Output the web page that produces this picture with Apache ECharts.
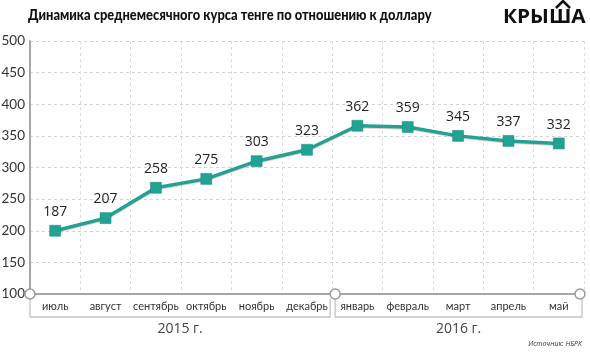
<!DOCTYPE html>
<html lang="ru">
<head>
    <meta charset="UTF-8">
    <title>Курс тенге</title>
    <style>
        * { padding: 0; margin: 0; }
        body { background: #fff; }
        .EC { width: 590px; height: 353px; }
    </style>
</head>
<body>
<div class="EC"></div>
<script src="https://cdn.jsdelivr.net/npm/echarts@6/dist/echarts.min.js"></script>
<script>
    // месяцы
    const months = ['июль', 'август', 'сентябрь', 'октябрь', 'ноябрь', 'декабрь',
        'январь', 'февраль', 'март', 'апрель', 'май']
    // где точки стоят на картинке (по шкале)
    const plotted = [200, 220, 268, 282, 310, 328, 366, 364, 350, 342, 338]
    // подписи над точками
    const shown = [187, 207, 258, 275, 303, 323, 362, 359, 345, 337, 332]
    const yTicks = [100, 500, 50]
    const years = [['2015 г.', 0, 5], ['2016 г.', 6, 10]]

    const color = '#21a292'
    const grey = '#a6a6a6'
    const font = "'Open Sans', 'Noto Sans', sans-serif"
    const narrow = "Lato, 'Open Sans', sans-serif"

    let EC = echarts.init(document.querySelector('.EC'))
    let option = {
        animation: false,
        backgroundColor: '#fff',
        grid: { left: 30, right: 6, top: 41, bottom: 59, outerBoundsMode: 'none', containLabel: false },
        xAxis: {
            type: 'category',
            data: months,
            boundaryGap: true,
            axisLine: { lineStyle: { color: grey, width: 2 } },
            axisTick: { show: false },
            axisLabel: { color: '#333', fontSize: 11, fontFamily: narrow, margin: 7, interval: 0 },
            splitLine: { show: true, interval: 0, lineStyle: { color: '#dcdcdc', type: [3, 3], width: 1 } }
        },
        yAxis: {
            type: 'value',
            min: yTicks[0],
            max: yTicks[1],
            interval: yTicks[2],
            axisLine: { show: true, lineStyle: { color: grey, width: 2 } },
            axisTick: { show: false },
            axisLabel: { color: '#333', fontSize: 13.5, fontFamily: narrow, margin: 5 },
            splitLine: { lineStyle: { color: '#d2d2d2', type: [3, 3], width: 1 } }
        },
        series: [{
            type: 'line',
            data: plotted,
            symbol: 'rect',
            symbolSize: 11,
            lineStyle: { color: color, width: 3.5, shadowColor: 'rgba(200,120,120,0.35)', shadowOffsetY: 1, shadowBlur: 0 },
            itemStyle: { color: color, borderColor: '#178a7c', borderWidth: 0.5 },
            label: {
                show: true,
                position: 'top',
                distance: 6,
                color: '#222',
                fontSize: 14,
                fontFamily: font,
                formatter: p => shown[p.dataIndex]
            }
        }],
        graphic: []
    }
    EC.setOption(option)

    // скобки годов, кружки на оси, заголовок
    const px = i => EC.convertToPixel({ xAxisIndex: 0 }, i)
    const band = px(1) - px(0)
    const axisY = EC.convertToPixel({ yAxisIndex: 0 }, yTicks[0])
    let g = [
        {
            type: 'text', x: 28, y: 8, scaleX: 0.89,
            style: { text: 'Динамика среднемесячного курса тенге по отношению к доллару', font: "900 14.5px " + narrow, fill: '#111' }
        },
        {
            type: 'text', x: 503, y: 7, scaleX: 1.04,
            style: { text: 'КРЫША', font: "bold 20px " + font, fill: '#111' }
        },
        {
            type: 'polyline', shape: { points: [[556, 8], [563, 1], [570, 8]] },
            style: { stroke: '#111', lineWidth: 2.5, fill: null }
        },
        {
            type: 'text', right: 8, top: 340,
            style: { text: 'Источник: НБРК', font: "italic 7px " + font, fill: '#333' }
        }
    ]
    years.forEach(([name, a, b], k) => {
        let x1 = px(a) - band / 2 + (k ? 3 : 0)
        let x2 = px(b) + band / 2 - 2
        let yb = axisY + 23
        g.push({
            type: 'polyline',
            shape: { points: [[x1, k ? axisY + 5 : axisY], [x1, yb], [x2, yb], [x2, axisY + 5]] },
            style: { stroke: '#c4c4c4', lineWidth: 1.3, fill: null }
        })
        g.push({
            type: 'text', x: (x1 + x2) / 2, y: yb + 12,
            style: { text: name, font: "14px " + font, fill: '#444', align: 'center', verticalAlign: 'middle' }
        })
    })
    ;[px(0) - band / 2, px(6) - band / 2 + 3, px(10) + band / 2 - 4].forEach(x => {
        g.push({
            type: 'circle', shape: { cx: x, cy: axisY, r: 5 },
            style: { fill: '#fff', stroke: '#999', lineWidth: 1.5 }, z: 100
        })
    })
    EC.setOption({ graphic: g })
</script>
</body>
</html>
